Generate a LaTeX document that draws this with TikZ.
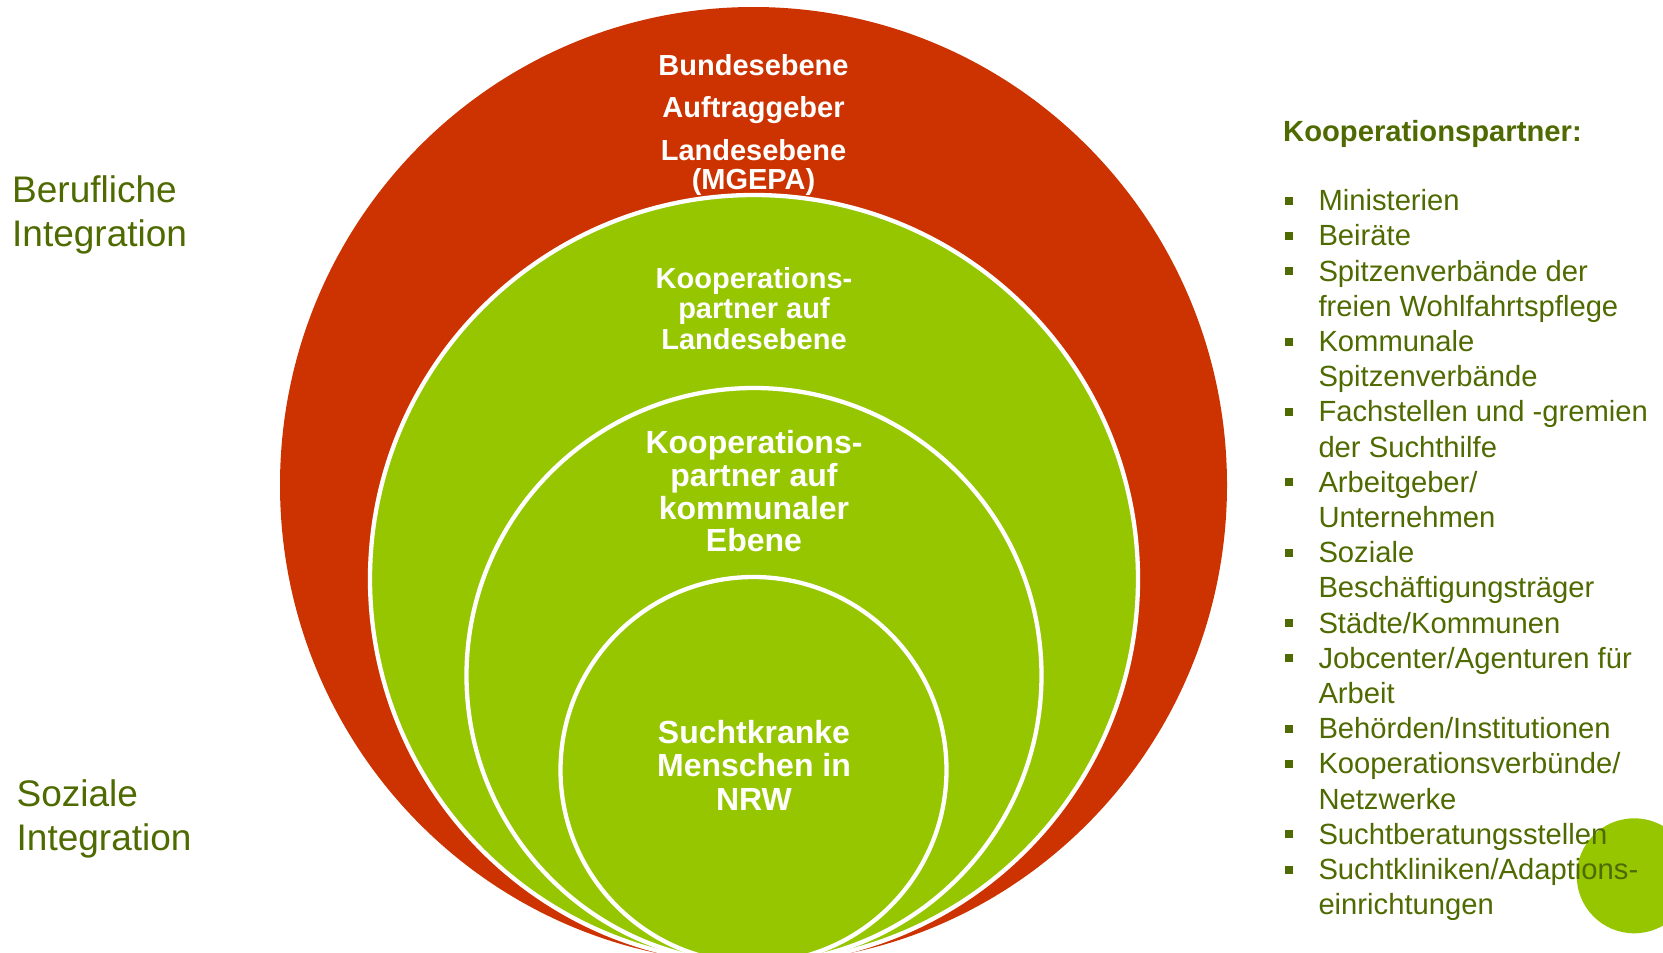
\documentclass[tikz,border=0pt]{standalone}
\usepackage{fontspec}
\setmainfont{Liberation Sans}
\definecolor{redc}{RGB}{204,51,0}
\definecolor{greenc}{RGB}{149,198,0}
\definecolor{olivec}{RGB}{79,106,0}
\begin{document}
\begin{tikzpicture}[x=1pt,y=-1pt,
  ring/.style={fill=greenc,draw=white,line width=4.3pt},
  wlab/.style={text=white,font=\bfseries\fontsize{29}{30}\selectfont,anchor=base,inner sep=0pt},
  wlabb/.style={text=white,font=\bfseries\fontsize{32}{33}\selectfont,anchor=base,inner sep=0pt},
  itm/.style={text=olivec,font=\fontsize{29.2}{35}\selectfont,anchor=base west,inner sep=0pt},
  head/.style={text=olivec,font=\bfseries\fontsize{29.2}{35}\selectfont,anchor=base west,inner sep=0pt},
  side/.style={text=olivec,font=\fontsize{37}{44}\selectfont,anchor=base west,inner sep=0pt},
  bul/.style={fill=olivec,rectangle,minimum size=8pt,inner sep=0pt},
]
\useasboundingbox (0,0) rectangle (1663,953);
\clip (0,0) rectangle (1663,953);
% circles
\fill[redc] (753.5,485) ellipse [x radius=473.5pt, y radius=478pt];
\draw[ring] (754,579) circle [radius=384pt];
\draw[ring] (754,675.5) circle [radius=287.5pt];
\draw[ring] (753.5,770) circle [radius=193pt];
\fill[greenc] (1634.2,875.8) circle [radius=57.5pt];
% texts in the red circle
\node[wlab] (bund) at (753.5,75) {Bundesebene};
\node[wlab] (auft) at (753.5,117) {Auftraggeber};
\node[wlab] (land) at (753.5,160) {Landesebene};
\node[wlab] (mgepa) at (753.5,189) {(MGEPA)};
% outer green
\node[wlab] (k1a) at (754,288) {Kooperations-};
\node[wlab] (k1b) at (754,318.5) {partner auf};
\node[wlab] (k1c) at (754,349) {Landesebene};
% middle green
\node[wlabb] (k2a) at (754,453) {Kooperations-};
\node[wlabb] (k2b) at (754,486) {partner auf};
\node[wlabb] (k2c) at (754,519) {kommunaler};
\node[wlabb] (k2d) at (754,551.5) {Ebene};
% inner green
\node[wlabb] (sa) at (754,743) {Suchtkranke};
\node[wlabb] (sb) at (754,776.5) {Menschen in};
\node[wlabb] (sc) at (754,810) {NRW};
% left labels
\node[side] (ber1) at (12,202.7) {Berufliche};
\node[side] (ber2) at (12,246.7) {Integration};
\node[side] (soz1) at (16.5,806) {Soziale};
\node[side] (soz2) at (16.5,850) {Integration};
% right list
\node[head] (kp) at (1283,141.7) {Kooperationspartner:};
\foreach \k in {0,1,2,4,6,8,10,12,13,15,16,18,19}{
  \node[bul] (b\k) at (1289,{210.7+35.2*\k-10}) {};
}
\node[itm] (t0) at (1318.3,210.7) {Ministerien};
\node[itm] (t1) at (1318.3,245.9) {Beiräte};
\node[itm] (t2) at (1318.3,281.1) {Spitzenverbände der};
\node[itm] (t3) at (1318.3,316.3) {freien Wohlfahrtspflege};
\node[itm] (t4) at (1318.3,351.5) {Kommunale};
\node[itm] (t5) at (1318.3,386.7) {Spitzenverbände};
\node[itm] (t6) at (1318.3,421.9) {Fachstellen und -gremien};
\node[itm] (t7) at (1318.3,457.1) {der Suchthilfe};
\node[itm] (t8) at (1318.3,492.3) {Arbeitgeber/};
\node[itm] (t9) at (1318.3,527.5) {Unternehmen};
\node[itm] (t10) at (1318.3,562.7) {Soziale};
\node[itm] (t11) at (1318.3,597.9) {Beschäftigungsträger};
\node[itm] (t12) at (1318.3,633.1) {Städte/Kommunen};
\node[itm] (t13) at (1318.3,668.3) {Jobcenter/Agenturen für};
\node[itm] (t14) at (1318.3,703.5) {Arbeit};
\node[itm] (t15) at (1318.3,738.7) {Behörden/Institutionen};
\node[itm] (t16) at (1318.3,773.9) {Kooperationsverbünde/};
\node[itm] (t17) at (1318.3,809.1) {Netzwerke};
\node[itm] (t18) at (1318.3,844.3) {Suchtberatungsstellen};
\node[itm] (t19) at (1318.3,879.5) {Suchtkliniken/Adaptions-};
\node[itm] (t20) at (1318.3,914.7) {einrichtungen};
\end{tikzpicture}
\end{document}
